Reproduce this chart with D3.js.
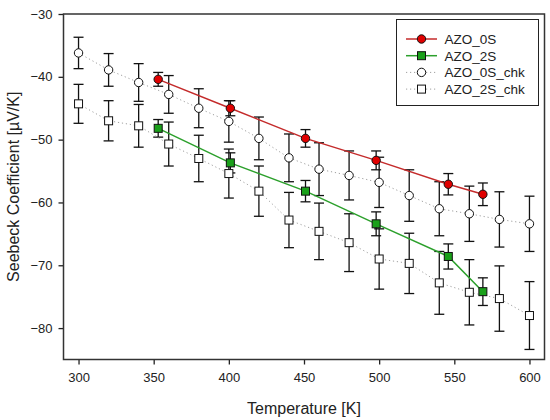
<!DOCTYPE html>
<html>
<head>
<meta charset="utf-8">
<script src="https://cdn.jsdelivr.net/npm/d3@7"></script>
<style>
  body { margin: 0; background: #fff; }
  svg { font-family: "Liberation Sans", Arial, sans-serif; }
</style>
</head>
<body>
<svg width="550" height="420"></svg>
<script>
// chk series: measured every 20 K
const tempChk = [300, 320, 340, 360, 380, 400, 420, 440, 460, 480, 500, 520, 540, 560, 580, 600];
const chk0S = [-36.2, -38.9, -40.9, -42.8, -45.0, -47.1, -49.8, -52.9, -54.7, -55.7, -56.8, -58.9, -61.0, -61.8, -62.7, -63.4];
const chk0SErr = [2.5, 2.6, 3.0, 3.0, 3.1, 3.3, 3.4, 3.8, 4.2, 3.9, 4.0, 4.1, 4.3, 4.4, 4.4, 4.4];
const chk2S = [-44.3, -47.0, -47.8, -50.7, -53.0, -55.4, -58.2, -62.8, -64.6, -66.4, -69.0, -69.7, -72.8, -74.3, -75.3, -78.0];
const chk2SErr = [3.1, 3.2, 3.4, 3.5, 3.7, 3.9, 4.0, 4.4, 4.5, 4.6, 4.8, 4.8, 5.0, 5.2, 5.2, 5.4];

// main series
const tempMain = [353, 401, 451, 498, 546, 569];
const azo0S = [-40.4, -45.0, -49.8, -53.3, -57.1, -58.7];
const azo0SErr = [1.1, 1.2, 1.4, 1.5, 1.7, 1.8];
const azo2S = [-48.2, -53.7, -58.2, -63.4, -68.6, -74.2];
const azo2SErr = [1.4, 1.6, 1.7, 1.9, 2.0, 2.2];

const xTicks = [300, 350, 400, 450, 500, 550, 600];
const yTicks = [-30, -40, -50, -60, -70, -80];
const legendNames = ["AZO_0S", "AZO_2S", "AZO_0S_chk", "AZO_2S_chk"];

const pLeft = 63.5, pRight = 544.5, pTop = 14, pBottom = 359.5;

const svg = d3.select("svg");

const x = d3.scaleLinear().domain([290, 610]).range([pLeft, pRight]);
const y = d3.scaleLinear().domain([-85, -30]).range([pBottom, pTop]);

// axes
const xAxis = svg.append("g")
   .attr("transform", `translate(0, ${pBottom})`)
   .call(d3.axisBottom(x).tickValues(xTicks).tickSize(5).tickSizeOuter(0).tickPadding(8));
const yAxis = svg.append("g")
   .attr("transform", `translate(${pLeft}, 0)`)
   .call(d3.axisLeft(y).tickValues(yTicks).tickSize(5).tickSizeOuter(0).tickPadding(6));

[xAxis, yAxis].forEach(a => {
  a.select(".domain").remove();
  a.selectAll("line").attr("stroke", "#222").attr("stroke-width", 1.3);
  a.selectAll("text").attr("font-size", 13).attr("fill", "#222")
   .style("font-family", "'Liberation Sans', Arial, sans-serif");
});

// frame
svg.append("rect")
   .attr("x", pLeft).attr("y", pTop)
   .attr("width", pRight - pLeft).attr("height", pBottom - pTop)
   .attr("fill", "none").attr("stroke", "#333").attr("stroke-width", 1.5);

// axis titles
svg.append("text")
   .attr("x", (pLeft + pRight) / 2).attr("y", 414)
   .attr("text-anchor", "middle").attr("font-size", 16).attr("fill", "#222")
   .text("Temperature [K]");
svg.append("text")
   .attr("transform", `translate(19, ${(pTop + pBottom) / 2}) rotate(-90)`)
   .attr("text-anchor", "middle").attr("font-size", 16).attr("fill", "#222")
   .text("Seebeck Coefficient [\u00B5V/K]");

function makeRows(ts, vs, es) {
  return ts.map((t, i) => ({ t: t, v: vs[i], e: es[i] }));
}

const series = [
  { rows: makeRows(tempChk, chk0S, chk0SErr), line: "#a0a0a0", dash: "1.2,2.8", width: 1, shape: "circle", fill: "#fff" },
  { rows: makeRows(tempChk, chk2S, chk2SErr), line: "#a0a0a0", dash: "1.2,2.8", width: 1, shape: "square", fill: "#fff" },
  { rows: makeRows(tempMain, azo0S, azo0SErr), line: "#c42b2b", dash: null, width: 1.5, shape: "circle", fill: "#e00000" },
  { rows: makeRows(tempMain, azo2S, azo2SErr), line: "#2ca02c", dash: null, width: 1.5, shape: "square", fill: "#1aa01a" }
];

const line = d3.line().x(d => x(d.t)).y(d => y(d.v));

// error bars first
series.forEach(s => {
  const g = svg.append("g").attr("stroke", "#111").attr("stroke-width", 1.3);
  s.rows.forEach(d => {
    const cx = x(d.t);
    g.append("line").attr("x1", cx).attr("x2", cx).attr("y1", y(d.v + d.e)).attr("y2", y(d.v - d.e));
    g.append("line").attr("x1", cx - 5).attr("x2", cx + 5).attr("y1", y(d.v + d.e)).attr("y2", y(d.v + d.e));
    g.append("line").attr("x1", cx - 5).attr("x2", cx + 5).attr("y1", y(d.v - d.e)).attr("y2", y(d.v - d.e));
  });
});

function drawMarker(g, shape, cx, cy, fill) {
  if (shape === "circle") {
    g.append("circle").attr("cx", cx).attr("cy", cy).attr("r", 4.2)
     .attr("fill", fill).attr("stroke", "#111").attr("stroke-width", 1);
  } else {
    g.append("rect").attr("x", cx - 4).attr("y", cy - 4).attr("width", 8).attr("height", 8)
     .attr("fill", fill).attr("stroke", "#111").attr("stroke-width", 1);
  }
}

series.forEach(s => {
  svg.append("path").datum(s.rows)
     .attr("d", line).attr("fill", "none")
     .attr("stroke", s.line).attr("stroke-width", s.width)
     .attr("stroke-dasharray", s.dash);
  const g = svg.append("g");
  s.rows.forEach(d => drawMarker(g, s.shape, x(d.t), y(d.v), s.fill));
});

// legend
const lg = svg.append("g");
lg.append("rect").attr("x", 396.5).attr("y", 19.5).attr("width", 142).attr("height", 86)
  .attr("fill", "#fff").attr("stroke", "#222").attr("stroke-width", 1);
const legendOrder = [2, 3, 0, 1];
legendNames.forEach((name, i) => {
  const s = series[legendOrder[i]];
  const ly = 39 + i * 16.7;
  lg.append("line").attr("x1", 406).attr("x2", 437).attr("y1", ly).attr("y2", ly)
    .attr("stroke", s.line).attr("stroke-width", s.width).attr("stroke-dasharray", s.dash);
  drawMarker(lg, s.shape, 421.5, ly, s.fill);
  lg.append("text").attr("x", 444.5).attr("y", ly).attr("dy", "0.36em")
    .attr("font-size", 13.5).attr("fill", "#222").text(name);
});
</script>
</body>
</html>
